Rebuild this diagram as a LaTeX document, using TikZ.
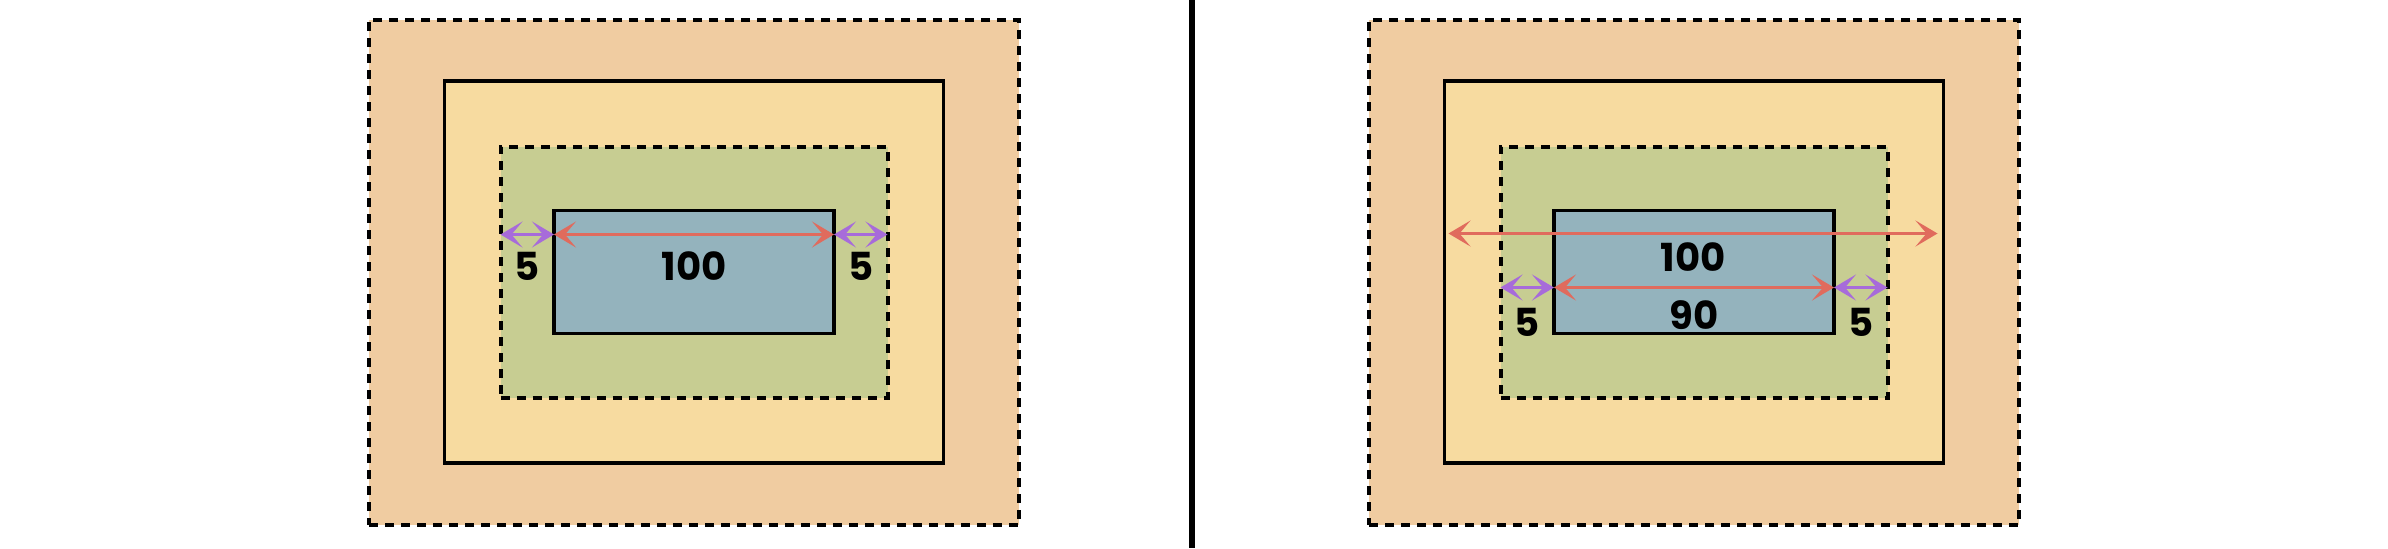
\documentclass[tikz,border=0pt]{standalone}
\usepackage{fontspec}
\setmainfont{Poppins}
\usetikzlibrary{positioning,arrows.meta}

\definecolor{marginfill}{HTML}{F0CCA1}
\definecolor{borderfill}{HTML}{F7DBA0}
\definecolor{paddingfill}{HTML}{C7CD92}
\definecolor{contentfill}{HTML}{94B3BD}
\definecolor{widthred}{HTML}{E06B5D}
\definecolor{padpurple}{HTML}{A76BDA}

\begin{document}
\begin{tikzpicture}[
        box/.style={rectangle, inner sep=0pt, outer sep=0pt},
        dashedbox/.style={box, draw, line width=0.08cm, dash pattern=on 0.18cm off 0.14cm},
        solidbox/.style={box, draw, line width=0.07cm},
        measure/.style={line width=0.07cm, {Stealth[length=0.44cm,width=0.52cm,inset=0.22cm]}-{Stealth[length=0.44cm,width=0.52cm,inset=0.22cm]}},
        num/.style={font=\fontsize{22}{26}\selectfont\bfseries, inner sep=0pt}]
        \useasboundingbox (0,0) rectangle (47.76,-10.96);

        % left box
        \node[dashedbox, fill=marginfill, minimum width=13cm, minimum height=10.1cm] (lmargin) at (13.88,-5.44) {};
        \node[solidbox, fill=borderfill, minimum width=9.98cm, minimum height=7.64cm] (lborder) at (lmargin.center) {};
        \node[dashedbox, fill=paddingfill, minimum width=7.74cm, minimum height=5.02cm] (lpadding) at (lmargin.center) {};
        \node[solidbox, fill=contentfill, minimum width=5.6cm, minimum height=2.46cm] (lcontent) at (lmargin.center) {};

        % right box
        \node[dashedbox, fill=marginfill, minimum width=13cm, minimum height=10.1cm, right=7cm of lmargin] (rmargin) {};
        \node[solidbox, fill=borderfill, minimum width=9.98cm, minimum height=7.64cm] (rborder) at (rmargin.center) {};
        \node[dashedbox, fill=paddingfill, minimum width=7.74cm, minimum height=5.02cm] (rpadding) at (rmargin.center) {};
        \node[solidbox, fill=contentfill, minimum width=5.6cm, minimum height=2.46cm] (rcontent) at (rmargin.center) {};

        % divider
        \coordinate (divtop) at (23.84,0);
        \coordinate (divbot) at (23.84,-10.96);
        \draw[line width=0.13cm] (divtop) -- (divbot);

        % left measures
        \coordinate (la) at ([yshift=-0.48cm]lcontent.north west);
        \coordinate (lb) at ([yshift=-0.48cm]lcontent.north east);
        \draw[measure, padpurple] (lpadding.west |- la) -- node[num, text=black, yshift=-0.64cm] (lpadl) {5} (la);
        \draw[measure, widthred] (la) -- node[num, text=black, yshift=-0.64cm] (lwidth) {100} (lb);
        \draw[measure, padpurple] (lb) -- node[num, text=black, yshift=-0.64cm] (lpadr) {5} (lpadding.east |- lb);

        % right measures
        \coordinate (rtop) at ([yshift=-0.46cm]rcontent.north);
        \coordinate (ra) at ([yshift=-1.54cm]rcontent.north west);
        \coordinate (rb) at ([yshift=-1.54cm]rcontent.north east);
        \draw[measure, widthred] ([xshift=0.08cm]rborder.west |- rtop) -- node[num, text=black, yshift=-0.48cm] (rwidth) {100} ([xshift=-0.12cm]rborder.east |- rtop);
        \draw[measure, padpurple] (rpadding.west |- ra) -- node[num, text=black, yshift=-0.7cm] (rpadl) {5} (ra);
        \draw[measure, widthred] (ra) -- node[num, text=black, yshift=-0.56cm] (rcontentw) {90} (rb);
        \draw[measure, padpurple] (rb) -- node[num, text=black, yshift=-0.7cm] (rpadr) {5} (rpadding.east |- rb);
\end{tikzpicture}
\end{document}
